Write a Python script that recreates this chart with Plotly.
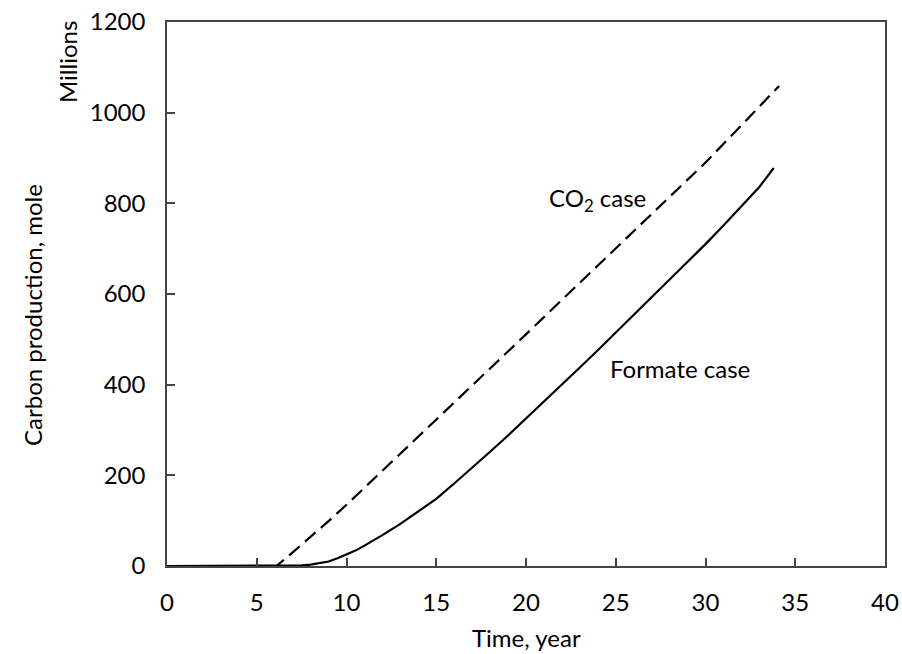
import plotly.graph_objects as go

# CO2 case (dashed)
co2_x = [0, 6.1, 7, 8, 9, 10, 12, 15, 18, 20, 22, 25, 27.5, 30, 32, 34.1]
co2_y = [0, 0, 30, 64, 99, 135, 210, 322, 436, 511, 587, 700, 795, 890, 972, 1059]

# Formate case (solid)
for_x = [0, 6.5, 7, 7.5, 8, 8.5, 9, 9.5, 10, 10.5, 11, 11.5, 12, 13, 14, 15, 16, 17, 18, 19,
         20, 21, 22, 23, 24, 25, 26, 27, 28, 29, 30, 31, 32, 33, 33.8]
for_y = [0, 0, 0.3, 1.2, 3, 6, 10, 17, 25, 34, 45, 56, 68, 93, 120, 148, 182, 216, 252, 288,
         325, 362, 400, 438, 476, 515, 553, 592, 632, 671, 710, 751, 793, 836, 878]

x_ticks = [0, 5, 10, 15, 20, 25, 30, 35, 40]
y_ticks = [0, 200, 400, 600, 800, 1000, 1200]

FONT = "Lato, 'Open Sans', sans-serif"
W, H = 902, 654
L, R, T, B = 167, 17, 22, 88
pw, ph = W - L - R, H - T - B

def px(x):
    return (x - L) / pw

def py(y):
    return (H - B - y) / ph

fig = go.Figure()
fig.add_trace(go.Scatter(x=co2_x, y=co2_y, mode="lines",
                         line=dict(color="black", width=2.2, dash="14px,7px"),
                         showlegend=False, hoverinfo="skip"))
fig.add_trace(go.Scatter(x=for_x, y=for_y, mode="lines",
                         line=dict(color="black", width=2.2),
                         showlegend=False, hoverinfo="skip"))

axis_common = dict(ticks="inside", ticklen=8, tickcolor="#444", tickwidth=1.5, showline=True,
                   linecolor="#444", linewidth=1.5, mirror=True, showgrid=False,
                   zeroline=False, automargin=False,
                   tickfont=dict(family=FONT, size=24, color="black"))

fig.update_layout(
    template="none",
    width=W, height=H,
    margin=dict(l=L, r=R, t=T, b=B, pad=0),
    paper_bgcolor="white", plot_bgcolor="white",
    font=dict(family=FONT, size=24, color="black"),
    xaxis=dict(range=[0, 40], tickvals=x_ticks, ticklabelstandoff=14, **axis_common),
    yaxis=dict(range=[0, 1200], tickvals=y_ticks, ticklabelstandoff=15, **axis_common),
)

labels = [
    ("CO<sub>2</sub> case", 597, 200, 0),
    ("Formate case", 680, 368, 0),
    ("Carbon production, mole", 32, 315, -90),
    ("Millions", 68, 62, -90),
    ("Time, year", 526, 637, 0),
]
fig.update_layout(annotations=[
    dict(text=t, x=px(x), y=py(y), xref="paper", yref="paper", xanchor="center",
         yanchor="middle", showarrow=False, textangle=a,
         font=dict(family=FONT, size=24, color="black"))
    for t, x, y, a in labels
])

fig.write_html("out.html", config={"displayModeBar": False},
               post_script="document.body.style.margin='0';")
